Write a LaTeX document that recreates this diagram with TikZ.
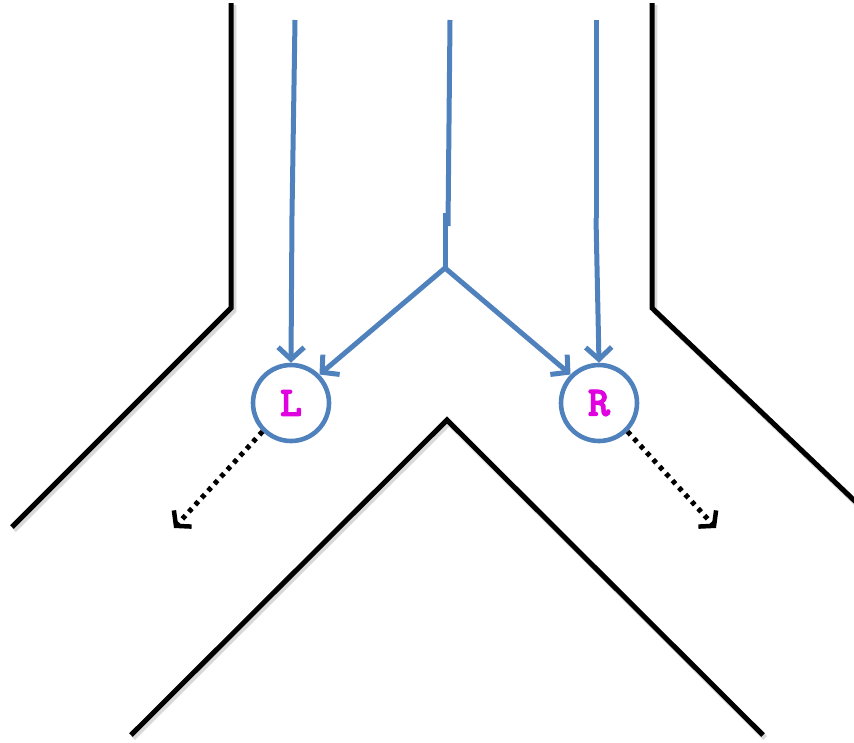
\documentclass[tikz,border=0pt]{standalone}
\usepackage{fontspec}
\newfontfamily\wheelfont{lmmonolt10-bold.otf}[FakeBold=2.5]
\usetikzlibrary{arrows.meta}
\definecolor{flowblue}{HTML}{4F81BD}
\definecolor{labelmag}{HTML}{E000E0}
\begin{document}
\begin{tikzpicture}[x=1pt,y=-1pt,
  wall/.style={line width=5pt,black,line join=miter},
  wallshadow/.style={line width=5.5pt,black!15,line join=miter},
  flow/.style={line width=5pt,flowblue},
  flowarrow/.style={flow,-{Straight Barb[length=12pt,width=26pt,line width=5pt]}},
  side/.style={line width=5pt,black,dash pattern=on 4.5pt off 5pt,-{Straight Barb[length=10pt,width=24pt,line width=4.5pt]}},
  wheel/.style={circle,draw=flowblue,line width=4.6pt,fill=white,minimum size=76pt,inner sep=0pt,
    font=\wheelfont\fontsize{42}{42}\selectfont,text=labelmag}]
\useasboundingbox (0,0) rectangle (854,742);
% wall shadows
\draw[wallshadow] (233.5,5) -- (233.5,311) -- (14,530);
\draw[wallshadow] (654.5,5) -- (654.5,311) -- (860,507);
\draw[wallshadow] (133,738) -- (449,423) -- (765,738);
% walls
\draw[wall] (231,3) -- (231,308) -- (12,527);
\draw[wall] (652,3) -- (652,308) -- (858,504);
\draw[wall] (131,735) -- (447,420) -- (763,735);
% wheels
\node[wheel] (L) at (291,403) {L};
\node[wheel] (R) at (599,403) {R};
% flow lines
\coordinate (lt) at (295,20);
\coordinate (lm) at (292,215);
\coordinate (ct) at (450,20);
\coordinate (cm) at (448,226);
\coordinate (cs) at (445,213);
\coordinate (fork) at (445,268);
\coordinate (rt) at (596,20);
\coordinate (rm) at (596,218);
\draw[flow] (lt) -- (lm);
\draw[flowarrow] (lm) -- (L.north);
\draw[flow] (ct) -- (cm);
\draw[flow] (cs) -- (fork);
\draw[flowarrow] (fork) -- (L.north east);
\draw[flowarrow] (fork) -- (R.north west);
\draw[flow] (rt) -- (rm);
\draw[flowarrow] (rm) -- (R.north);
% side outputs
\coordinate (lo) at (174,528);
\coordinate (ro) at (716,528);
\draw[side] (L.south west) -- (lo);
\draw[side] (R.south east) -- (ro);
\end{tikzpicture}
\end{document}
